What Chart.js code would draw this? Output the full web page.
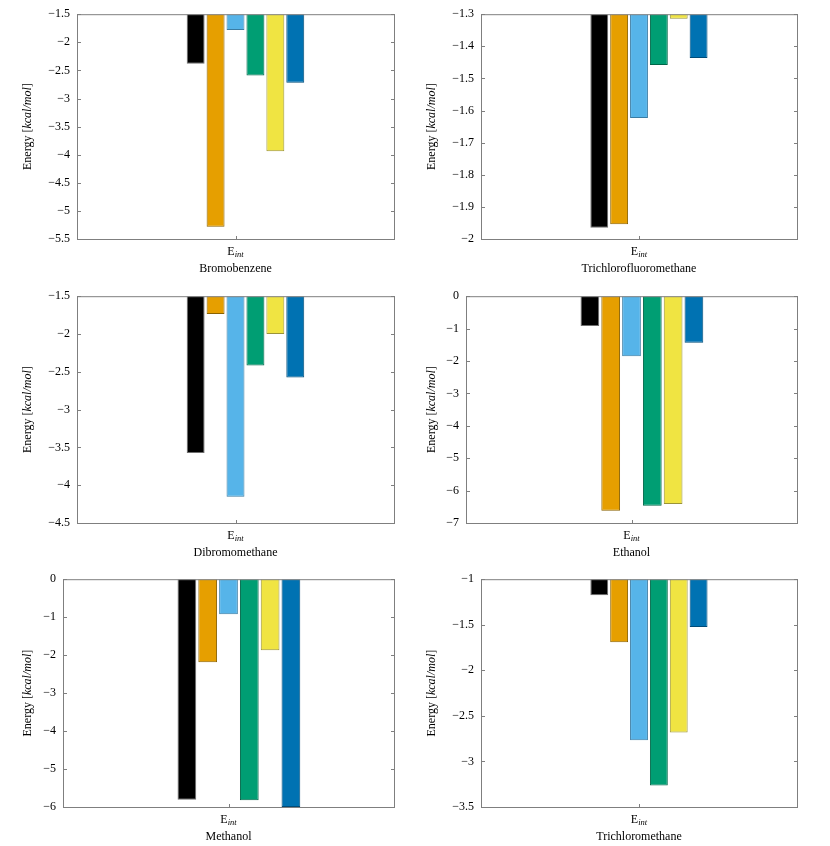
<!DOCTYPE html>
<html>
<head>
<meta charset="utf-8">
<title>Interaction energies</title>
<script src="https://cdn.jsdelivr.net/npm/chart.js@4.4.1/dist/chart.umd.min.js"></script>
<style>
  body { margin: 0; background: #fff; }
  #grid { position: relative; width: 830px; height: 846px; }
  canvas { position: absolute; display: block; }
</style>
</head>
<body>
<div id="grid">
  <canvas id="c1" width="415" height="282" style="left:0;top:0"></canvas>
  <canvas id="c2" width="415" height="282" style="left:415px;top:0"></canvas>
  <canvas id="c3" width="415" height="283" style="left:0;top:282px"></canvas>
  <canvas id="c4" width="415" height="283" style="left:415px;top:282px"></canvas>
  <canvas id="c5" width="415" height="281" style="left:0;top:565px"></canvas>
  <canvas id="c6" width="415" height="281" style="left:415px;top:565px"></canvas>
</div>
<script>
// values, six series per molecule
const categories = ['E_int'];
const bromobenzene = [-2.38, -5.28, -1.78, -2.59, -3.94, -2.72];
const trichlorofluoromethane = [-1.965, -1.954, -1.623, -1.458, -1.314, -1.436];
const dibromomethane = [-3.575, -1.737, -4.153, -2.417, -2.0, -2.575];
const ethanol = [-0.92, -6.62, -1.85, -6.47, -6.41, -1.44];
const methanol = [-5.81, -2.19, -0.92, -5.82, -1.87, -6.0];
const trichloromethane = [-1.176, -1.693, -2.767, -3.265, -2.683, -1.524];

const molecules = ['Bromobenzene', 'Trichlorofluoromethane', 'Dibromomethane', 'Ethanol', 'Methanol', 'Trichloromethane'];
const moleculeValues = [bromobenzene, trichlorofluoromethane, dibromomethane, ethanol, methanol, trichloromethane];

// y axis ranges / tick steps
const yMin = [-5.5, -2, -4.5, -7, -6, -3.5];
const yMax = [-1.5, -1.3, -1.5, 0, 0, -1];
const yStep = [0.5, 0.1, 0.5, 1, 1, 0.5];

const yTitle = [
  { text: 'Energy [', italic: false },
  { text: 'kcal/mol', italic: true },
  { text: ']', italic: false }
];

const seriesColors = ['#000000', '#E69F00', '#56B4E9', '#009E73', '#F0E442', '#0072B2'];
const seriesEdges = ['#6e6e6e', '#8a6200', '#3a7ca3', '#006648', '#9a9338', '#004c79'];

// plot box of each panel inside its canvas
const frames = [
  { L: 77, R: 394, T: 12, B: 239, titleX: 28 },
  { L: 66, R: 382, T: 12, B: 239, titleX: 17 },
  { L: 77, R: 394, T: 13, B: 241, titleX: 28 },
  { L: 51, R: 382, T: 13, B: 241, titleX: 17 },
  { L: 63, R: 394, T: 14, B: 242, titleX: 28 },
  { L: 66, R: 382, T: 14, B: 242, titleX: 17 }
];

const FONT = 'Liberation Serif';
Chart.defaults.font.family = FONT;
Chart.defaults.font.size = 12;
Chart.defaults.color = '#000';

function drawParts(ctx, parts, size) {
  let total = 0;
  parts.forEach(p => {
    ctx.font = (p.italic ? 'italic ' : '') + size + 'px "' + FONT + '"';
    p.w = ctx.measureText(p.text).width;
    total += p.w;
  });
  let x = -total / 2;
  parts.forEach(p => {
    ctx.font = (p.italic ? 'italic ' : '') + size + 'px "' + FONT + '"';
    ctx.fillText(p.text, x, 0);
    x += p.w;
  });
}

// pgfplots-like frame, inward ticks and the rich-text labels
const framePlugin = {
  id: 'frame',
  afterDatasetsDraw(chart, args, opts) {
    const { ctx, chartArea: a, scales: { x, y } } = chart;
    ctx.save();
    ctx.strokeStyle = '#7f7f7f';
    ctx.lineWidth = 1;
    ctx.beginPath();
    ctx.rect(a.left + 0.5, a.top + 0.5, a.right - a.left, a.bottom - a.top);
    y.ticks.forEach((t, i) => {
      const py = Math.round(y.getPixelForTick(i)) + 0.5;
      ctx.moveTo(a.left, py); ctx.lineTo(a.left + 4, py);
      ctx.moveTo(a.right + 1, py); ctx.lineTo(a.right - 3, py);
    });
    const px = Math.round(x.getPixelForTick(0)) + 0.5;
    ctx.moveTo(px, a.bottom + 1); ctx.lineTo(px, a.bottom - 3);
    ctx.stroke();

    // x tick label: E with italic subscript
    ctx.fillStyle = '#000';
    ctx.textBaseline = 'alphabetic';
    ctx.textAlign = 'left';
    const [main, sub] = chart.data.labels[0].split('_');
    ctx.font = '12px "' + FONT + '"';
    const wMain = ctx.measureText(main).width;
    ctx.font = 'italic 8.5px "' + FONT + '"';
    const wSub = ctx.measureText(sub).width;
    const x0 = x.getPixelForTick(0) - (wMain + wSub) / 2;
    const base = a.bottom + 16;
    ctx.font = '12px "' + FONT + '"';
    ctx.fillText(main, x0, base);
    ctx.font = 'italic 8.5px "' + FONT + '"';
    ctx.fillText(sub, x0 + wMain, base + 2);

    // y title, rotated
    ctx.translate(opts.titleX, (a.top + a.bottom) / 2);
    ctx.rotate(-Math.PI / 2);
    ctx.textBaseline = 'middle';
    drawParts(ctx, yTitle.map(p => ({ ...p })), 12);
    ctx.restore();
  }
};

moleculeValues.forEach((values, p) => {
  const canvas = document.getElementById('c' + (p + 1));
  const f = frames[p];
  const W = canvas.width, H = canvas.height;

  // empty leading slot so the third bar sits on the tick, as in the figure
  const datasets = [{
    label: '',
    data: [null],
    backgroundColor: 'transparent',
    borderWidth: 0,
    categoryPercentage: 0.44,
    barPercentage: 0.9
  }].concat(values.map((v, i) => ({
    label: 'Series ' + (i + 1),
    data: [v],
    backgroundColor: seriesColors[i],
    borderColor: seriesEdges[i],
    borderWidth: 1,
    base: yMax[p],
    clip: 0,
    categoryPercentage: 0.44,
    barPercentage: 0.9
  })));

  new Chart(canvas, {
    type: 'bar',
    data: { labels: categories, datasets: datasets },
    plugins: [framePlugin],
    options: {
      responsive: false,
      animation: false,
      layout: { padding: { left: 0, top: f.T, right: W - f.R, bottom: 0 } },
      plugins: {
        legend: { display: false },
        tooltip: { enabled: false },
        frame: { titleX: f.titleX }
      },
      scales: {
        x: {
          grid: { display: false, drawTicks: false },
          border: { display: false },
          ticks: { display: false },
          title: {
            display: true,
            text: molecules[p],
            font: { size: 12 },
            padding: { top: 0, bottom: H - f.B - 37 }
          },
          afterFit(scale) { scale.height = H - f.B; }
        },
        y: {
          min: yMin[p],
          max: yMax[p],
          grid: { display: false, drawTicks: false },
          border: { display: false },
          ticks: {
            stepSize: yStep[p],
            padding: 7,
            callback: v => String(Math.round(v * 10) / 10).replace('-', '\u2212')
          },
          afterFit(scale) { scale.width = f.L; }
        }
      }
    }
  });
});
</script>
</body>
</html>
